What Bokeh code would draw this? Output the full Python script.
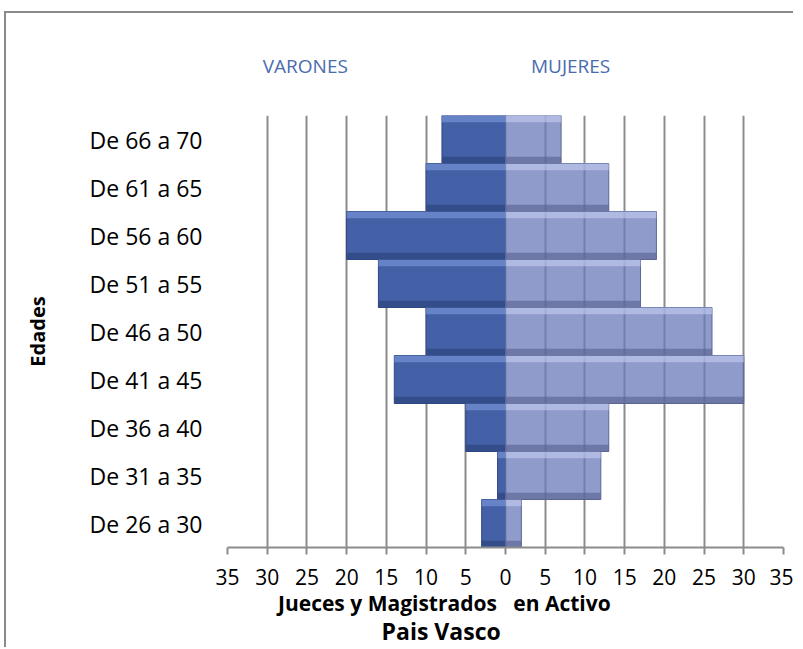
from bokeh.plotting import figure
from bokeh.models import FixedTicker, LinearAxis, ColumnDataSource
from bokeh.embed import file_html
from bokeh.resources import INLINE

# ---- data ----
edades = ["De 26 a 30", "De 31 a 35", "De 36 a 40", "De 41 a 45", "De 46 a 50",
          "De 51 a 55", "De 56 a 60", "De 61 a 65", "De 66 a 70"]
varones = [3, 1, 5, 14, 10, 16, 20, 10, 8]
mujeres = [2, 12, 13, 30, 26, 17, 19, 13, 7]
x_ticks = [-35, -30, -25, -20, -15, -10, -5, 0, 5, 10, 15, 20, 25, 30, 35]
x_title_1 = "Jueces y Magistrados\u00a0\u00a0 en Activo"
x_title_2 = "Pais Vasco"
y_title = "Edades"
group_labels = ["VARONES", "MUJERES"]

FONT = "Open Sans"
ypos = list(range(len(edades)))

src = ColumnDataSource(dict(
    y=ypos,
    v_left=[-v for v in varones],
    zero=[0] * len(edades),
    m_right=mujeres,
    y_top=[y + 0.43 for y in ypos],
    y_bot=[y - 0.43 for y in ypos],
))

p = figure(width=789, height=636, output_backend="svg", toolbar_location=None,
           x_range=(-35, 35), y_range=(-0.5, len(edades) - 0.5),
           min_border_left=221, min_border_right=12, min_border_top=102,
           min_border_bottom=90)
p.outline_line_color = None
p.background_fill_color = "white"
p.border_fill_color = "white"
p.styles = {"margin-top": "11px", "margin-left": "4px",
            "border-top": "2px solid #8a8a8a", "border-left": "2px solid #8a8a8a"}

# grid
p.ygrid.grid_line_color = None
p.xgrid.ticker = FixedTicker(ticks=x_ticks)
p.xgrid.grid_line_color = "#8c8c8c"
p.xgrid.grid_line_width = 2

# bars
p.hbar(y="y", left="v_left", right="zero", height=1.0, source=src,
       fill_color="#4461A8", line_color="#2E4683", line_width=1)
p.hbar(y="y_top", left="v_left", right="zero", height=0.14, source=src,
       fill_color="#6F8CD0", line_color=None, fill_alpha=0.8)
p.hbar(y="y_bot", left="v_left", right="zero", height=0.14, source=src,
       fill_color="#2F4782", line_color=None, fill_alpha=0.8)

p.hbar(y="y", left="zero", right="m_right", height=1.0, source=src,
       fill_color="#6879B9", fill_alpha=0.75, line_color="#5A6899", line_width=1)
p.hbar(y="y_top", left="zero", right="m_right", height=0.14, source=src,
       fill_color="#C4CDF2", line_color=None, fill_alpha=0.6)
p.hbar(y="y_bot", left="zero", right="m_right", height=0.14, source=src,
       fill_color="#56618F", line_color=None, fill_alpha=0.6)

# x axis
xa = p.xaxis[0]
xa.ticker = FixedTicker(ticks=x_ticks)
xa.major_label_overrides = {t: str(abs(t)) for t in x_ticks}
xa.axis_line_color = "#8c8c8c"
xa.axis_line_width = 2
xa.major_tick_line_color = "#8c8c8c"
xa.major_tick_line_width = 2
xa.major_tick_out = 7
xa.major_tick_in = 0
xa.minor_tick_line_color = None
xa.major_label_text_font = FONT
xa.major_label_text_font_size = "21px"
xa.major_label_text_color = "black"
xa.major_label_standoff = 14


def text_axis(ticks, labels, loc, size, color, bold, standoff):
    ax = LinearAxis(ticker=FixedTicker(ticks=ticks),
                    major_label_overrides=dict(zip(ticks, labels)))
    ax.axis_line_color = None
    ax.major_tick_line_color = None
    ax.minor_tick_line_color = None
    ax.major_label_text_font = FONT
    ax.major_label_text_font_size = size
    ax.major_label_text_color = color
    if bold:
        ax.major_label_text_font_style = "bold"
    ax.major_label_standoff = standoff
    p.add_layout(ax, loc)
    return ax


# x title, two lines, as label-only axes below
text_axis([-7.7], [x_title_1], "below", "21px", "black", True, -5)
text_axis([-8.1], [x_title_2], "below", "23px", "black", True, -11)

# group labels above (one axis, two labels)
text_axis([-25.2, 8.2], group_labels, "above", "19px", "#4A6CAE", False, 31)

# y axis
ya = p.yaxis[0]
ya.ticker = FixedTicker(ticks=ypos)
ya.major_label_overrides = {i: e for i, e in enumerate(edades)}
ya.axis_line_color = None
ya.major_tick_line_color = None
ya.minor_tick_line_color = None
ya.major_label_text_font = FONT
ya.major_label_text_font_size = "23px"
ya.major_label_text_color = "black"
ya.major_label_standoff = 19
ya.axis_label = y_title
ya.axis_label_text_font = FONT
ya.axis_label_text_font_style = "bold"
ya.axis_label_text_font_size = "20px"
ya.axis_label_text_color = "black"
ya.axis_label_standoff = 36

open("out.html", "w").write(file_html(p, INLINE))
